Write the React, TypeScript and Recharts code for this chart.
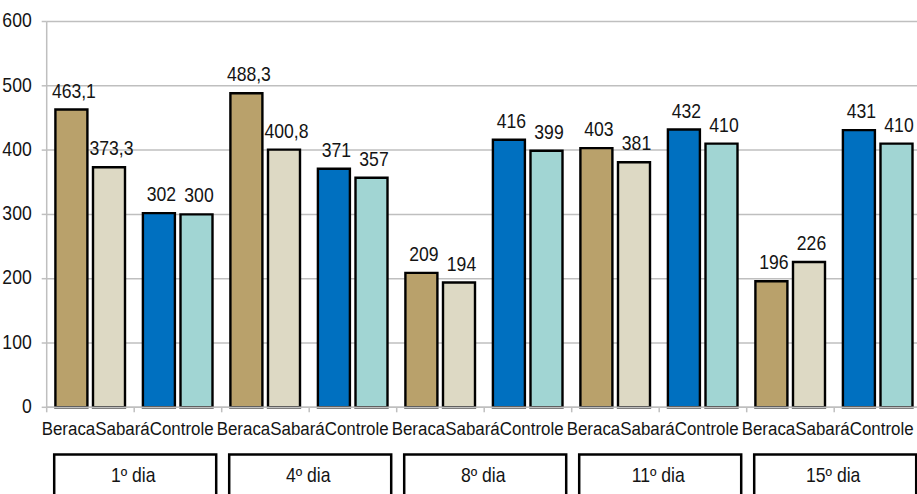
import React from 'react';
import { BarChart, Bar, XAxis, YAxis, CartesianGrid, Cell, LabelList } from 'recharts';

// Days of the trial and the products listed under each day
const dayLabels = ['1º dia', '4º dia', '8º dia', '11º dia', '15º dia'];
const groupLabels = ['Beraca', 'Sabará', 'Controle'];

// Two bar pairs per day: the tan pair first, then the blue pair
const firstValues = [463.1, 302, 488.3, 371, 209, 416, 403, 432, 196, 431];
const secondValues = [373.3, 300, 400.8, 357, 194, 399, 381, 410, 226, 410];
const yTicks = [0, 100, 200, 300, 400, 500, 600];

const firstColors = ['#B9A16B', '#0070C0'];
const secondColors = ['#DDD9C4', '#A1D5D3'];

const data = firstValues.map((v, i) => ({
  slot: `${dayLabels[Math.floor(i / 2)]} ${i % 2 + 1}`,
  first: v,
  second: secondValues[i],
}));

// Layout
const WIDTH = 930;
const HEIGHT = 494;
const MARGIN = { top: 21.5, right: 8.3, left: 0, bottom: 6.7 };
const YAXIS_W = 46.7;
const XAXIS_H = 80;
const PLOT_LEFT = MARGIN.left + YAXIS_W;
const PLOT_RIGHT = WIDTH - MARGIN.right;
const PLOT_BOTTOM = HEIGHT - MARGIN.bottom - XAXIS_H;
const BAND = (PLOT_RIGHT - PLOT_LEFT) / data.length;

const FONT = '"Liberation Sans", Arial, sans-serif';
const INK = '#141414';
const GRID = '#BFBFBF';
const SX = 0.88;

const fmt = (v: number) => (Number.isInteger(v) ? String(v) : v.toFixed(1).replace('.', ','));

function SText({ x, y, anchor, size, children }: any) {
  return (
    <text
      transform={`translate(${x} ${y}) scale(${SX} 1)`}
      textAnchor={anchor}
      fontSize={size}
      fontFamily={FONT}
      fill={INK}
    >
      {children}
    </text>
  );
}

function YTick({ y, payload }: any) {
  return (
    <SText x={PLOT_LEFT - 15} y={y + 5.7} anchor="end" size={20}>
      {payload.value}
    </SText>
  );
}

function XTick({ x, index }: any) {
  const left = x - BAND / 2;
  const last = index === data.length - 1;
  const showDay = index % 2 === 0;
  return (
    <g>
      <line x1={left} x2={left} y1={PLOT_BOTTOM} y2={PLOT_BOTTOM + 5} stroke={GRID} strokeWidth={1.5} />
      {last && (
        <line x1={left + BAND} x2={left + BAND} y1={PLOT_BOTTOM} y2={PLOT_BOTTOM + 5} stroke={GRID} strokeWidth={1.5} />
      )}
      {showDay && (
        <g>
          <text
            transform={`translate(${left - 5} ${PLOT_BOTTOM + 27.7}) scale(0.89 1)`}
            textAnchor="start"
            fontSize={19}
            fontFamily={FONT}
            fill={INK}
          >
            {groupLabels.map((g) => (
              <tspan key={g}>{g}</tspan>
            ))}
          </text>
          <rect x={left + 7.5} y={454.5} width={162} height={60} fill="none" stroke="#000" strokeWidth={2.5} />
          <SText x={left + BAND - 1} y={481.5} anchor="middle" size={20}>
            {dayLabels[index / 2]}
          </SText>
        </g>
      )}
    </g>
  );
}

function ValueLabel({ x, y, width, value }: any) {
  return (
    <SText x={x + width / 2 + 2.5} y={y - 12} anchor="middle" size={20}>
      {fmt(value)}
    </SText>
  );
}

export default function App() {
  return (
    <div
      style={{
        position: 'fixed',
        left: 0,
        top: 0,
        width: 917,
        height: 494,
        overflow: 'hidden',
        background: '#fff',
      }}
    >
      <BarChart
        width={WIDTH}
        height={HEIGHT}
        data={data}
        margin={MARGIN}
        barCategoryGap={8.7}
        barGap={5.6}
      >
        <CartesianGrid horizontal vertical={false} stroke={GRID} strokeWidth={1.5} />
        <XAxis
          dataKey="slot"
          height={XAXIS_H}
          interval={0}
          axisLine={{ stroke: GRID, strokeWidth: 1.5 }}
          tickLine={false}
          tick={(p: any) => <XTick {...p} />}
        />
        <YAxis
          width={YAXIS_W}
          domain={[0, 600]}
          ticks={yTicks}
          interval={0}
          axisLine={{ stroke: GRID, strokeWidth: 1.5 }}
          tickLine={{ stroke: GRID, strokeWidth: 1.5 }}
          tickSize={5}
          tickMargin={10}
          tick={(p: any) => <YTick {...p} />}
        />
        <Bar dataKey="first" isAnimationActive={false} stroke="#000" strokeWidth={2.4}>
          {data.map((d, i) => (
            <Cell key={d.slot} fill={firstColors[i % 2]} />
          ))}
          <LabelList dataKey="first" content={(p: any) => <ValueLabel {...p} />} />
        </Bar>
        <Bar dataKey="second" isAnimationActive={false} stroke="#000" strokeWidth={2.4}>
          {data.map((d, i) => (
            <Cell key={d.slot} fill={secondColors[i % 2]} />
          ))}
          <LabelList dataKey="second" content={(p: any) => <ValueLabel {...p} />} />
        </Bar>
      </BarChart>
    </div>
  );
}
